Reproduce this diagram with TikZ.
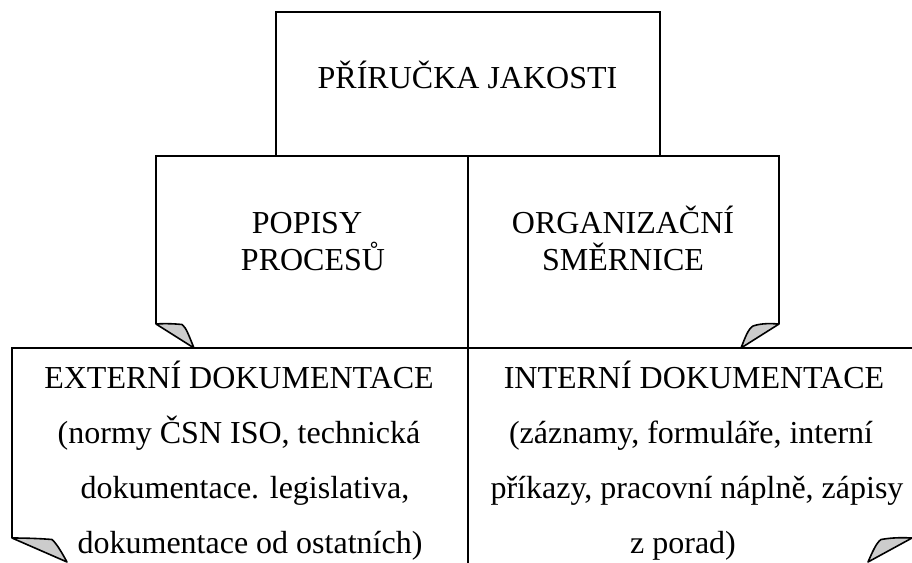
\documentclass[tikz,border=0pt]{standalone}
\usepackage{fontspec}
\setmainfont{Liberation Serif}
\definecolor{foldgray}{RGB}{204,204,204}
\tikzset{
  frame/.style={line width=2pt, line join=miter},
  fold/.style={line width=1.6pt, fill=foldgray, line join=round},
  txt/.style={inner sep=0pt, anchor=base, font=\fontsize{32}{38}\selectfont},
}
\begin{document}
\begin{tikzpicture}[x=1pt, y=-1pt]
  \useasboundingbox (0,0) rectangle (912,562);

  % top box
  \draw[frame] (276,12) rectangle (660,156);

  % middle row of two boxes
  \draw[frame] (156,324) -- (156,156) -- (779,156) -- (779,324);
  \draw[frame] (468,156) -- (468,566);

  % bottom row of two boxes (their lower edge lies below the page)
  \draw[frame] (12,538) -- (12,348) -- (914,348) -- (914,538);

  % folded corners
  \filldraw[fold] (156,324) -- (194,348) .. controls (189,336) and (186,327) .. (182,324.5)
                  .. controls (172,323.5) and (162,323.5) .. cycle;
  \filldraw[fold] (779,324) -- (741,348) .. controls (745,338) and (748,329) .. (753,326)
                  .. controls (762,323) and (771,323.5) .. cycle;
  \filldraw[fold] (12,538) -- (67,562) .. controls (62,553) and (57,544) .. (52,539.5)
                  .. controls (40,538.5) and (25,538) .. cycle;
  \filldraw[fold] (912,538) -- (868,562) .. controls (872,553) and (876,543) .. (881,539.5)
                  .. controls (892,537.5) and (903,537.5) .. cycle;

  % texts
  \node[txt] (manual) at (467.5,88) {PŘÍRUČKA JAKOSTI};

  \node[txt] (procA) at (307,233) {POPISY};
  \node[txt] (procB) at (313,270) {PROCESŮ};

  \node[txt] (dirA) at (623,233) {ORGANIZAČNÍ};
  \node[txt] (dirB) at (623,270) {SMĚRNICE};

  \node[txt] (extA) at (239,388) {EXTERNÍ DOKUMENTACE};
  \node[txt] (extB) at (239,443) {(normy ČSN ISO, technická};
  \node[txt] (extC) at (245,498) {dokumentace. legislativa,};
  \node[txt] (extD) at (250,553) {dokumentace od ostatních)};

  \node[txt] (intA) at (694,388) {INTERNÍ DOKUMENTACE};
  \node[txt] (intB) at (691,443) {(záznamy, formuláře, interní};
  \node[txt] (intC) at (697,498) {příkazy, pracovní náplně, zápisy};
  \node[txt] (intD) at (683,553) {z porad)};
\end{tikzpicture}
\end{document}
